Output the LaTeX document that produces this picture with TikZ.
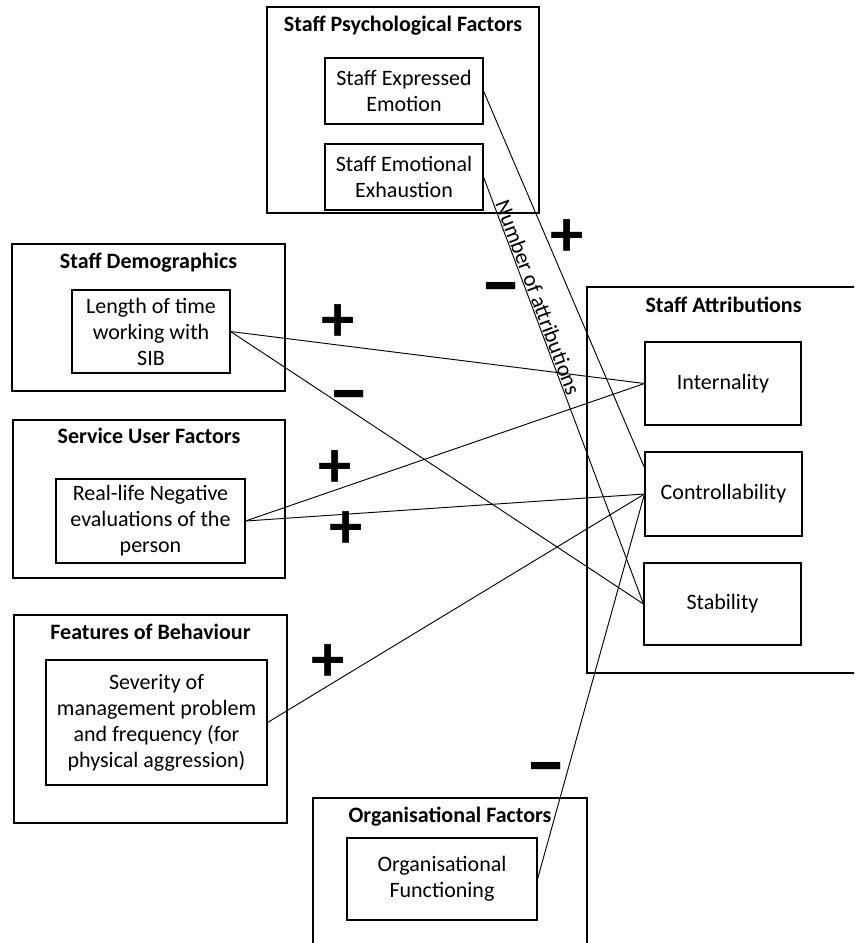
\documentclass[tikz,border=0pt]{standalone}
\usepackage{fontspec}
\setmainfont{Carlito}
\usetikzlibrary{calc}
\begin{document}
\begin{tikzpicture}[x=0.75pt,y=-0.75pt,
  outer/.style={draw, line width=0.8pt, inner sep=0pt},
  inbox/.style={draw, line width=0.8pt, inner sep=0pt, align=center, font=\fontsize{16.5}{19.5}\selectfont},
  ttl/.style={font=\fontsize{16.5}{19.5}\selectfont\bfseries, anchor=base, inner sep=0pt},
  link/.style={line width=0.7pt},
  plussign/.style={font=\fontsize{50}{52}\selectfont\bfseries, inner sep=0pt},
  minussign/.style={font=\fontsize{62}{64}\selectfont\bfseries, inner sep=0pt}]
\clip (0,0) rectangle (854,943);
% outer groups
\node[outer, minimum width=204pt, minimum height=154.5pt] (spf) at (403,110) {};
\node[outer, minimum width=204.75pt, minimum height=110.25pt] (sd) at (148.5,317.5) {};
\node[outer, minimum width=204pt, minimum height=118.5pt] (suf) at (149,499) {};
\node[outer, minimum width=204.75pt, minimum height=156pt] (fb) at (150.5,719) {};
\node[outer, minimum width=205.5pt, minimum height=121.5pt] (of) at (450,879) {};
\node[outer, minimum width=204.75pt, minimum height=289.5pt] (sa) at (723.5,480) {};
% titles
\node[ttl] (tspf) at ($(spf.north)+(0,25)$) {Staff Psychological Factors};
\node[ttl] (tsd) at ($(sd.north)+(0,25)$) {Staff Demographics};
\node[ttl] (tsuf) at ($(suf.north)+(0,24)$) {Service User Factors};
\node[ttl] (tfb) at ($(fb.north)+(0,25)$) {Features of Behaviour};
\node[ttl] (tof) at ($(of.north)+(0,25)$) {Organisational Factors};
\node[ttl] (tsa) at ($(sa.north)+(0,26)$) {Staff Attributions};
% inner boxes
\node[inbox, minimum width=118.5pt, minimum height=49.5pt] (see) at (404,91) {Staff Expressed\\Emotion};
\node[inbox, minimum width=118.5pt, minimum height=49.5pt] (sex) at (404,177) {Staff Emotional\\Exhaustion};
\node[inbox, minimum width=118.5pt, minimum height=62.25pt] (len) at (151,331.5) {Length of time\\working with\\SIB};
\node[inbox, minimum width=141.75pt, minimum height=63pt] (real) at (150.5,521) {Real-life Negative\\evaluations of the\\person};
\node[inbox, minimum width=165.75pt, minimum height=93.75pt] (sev) at (156.5,722.5) {Severity of\\management problem\\and frequency (for\\physical aggression)};
\node[inbox, minimum width=142.5pt, minimum height=61.5pt] (orgf) at (442,879) {Organisational\\Functioning};
\node[inbox, minimum width=117pt, minimum height=62.25pt] (int) at (723,383.5) {Internality};
\node[inbox, minimum width=117.75pt, minimum height=63pt] (con) at (723.5,494) {Controllability};
\node[inbox, minimum width=117.75pt, minimum height=61.5pt] (stab) at (722.5,604) {Stability};
% connectors
\draw[link] (see.east) -- ($(con.north west)!0.19!(con.south west)$);
\draw[link] (sex.east) -- (stab.west) node[pos=0.29, sloped, above, inner sep=0.5pt, font=\fontsize{16.5}{19.5}\selectfont] (noa) {Number of attributions};
\draw[link] (len.east) -- (int.west);
\draw[link] (len.east) -- (stab.west);
\draw[link] (real.east) -- (int.west);
\draw[link] (real.east) -- (con.west);
\draw[link] (sev.east) -- (con.west);
\draw[link] (orgf.east) -- (con.west);
% signs
\node[plussign] (s1) at (567,238) {+};
\node[minussign] (s2) at (501,296) {–};
\node[plussign] (s3) at (338,323) {+};
\node[minussign] (s4) at (349,404) {–};
\node[plussign] (s5) at (335,469) {+};
\node[plussign] (s6) at (346,530) {+};
\node[plussign] (s7) at (328,663) {+};
\node[minussign] (s8) at (546,776) {–};
\end{tikzpicture}
\end{document}
